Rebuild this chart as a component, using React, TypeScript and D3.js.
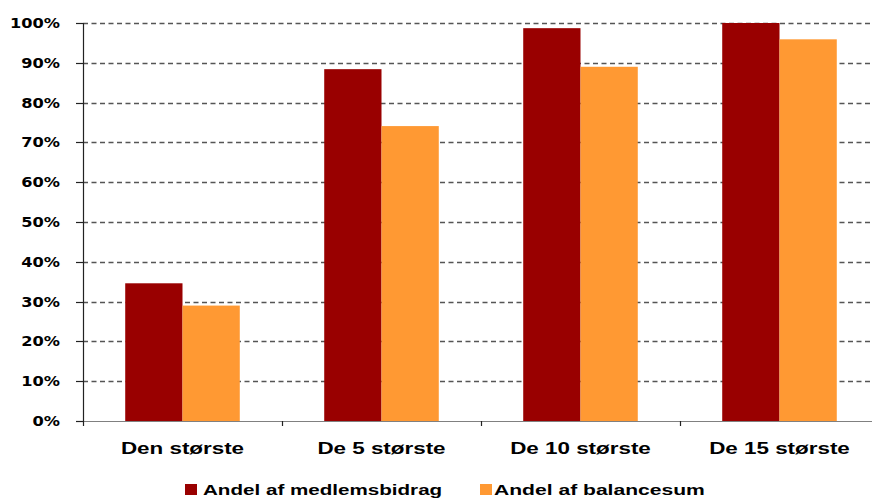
import React from "react";
import * as d3 from "d3";

const categories = ["Den største", "De 5 største", "De 10 største", "De 15 største"];
const seriesNames = ["Andel af medlemsbidrag", "Andel af balancesum"];
const medlemsbidrag = [0.346, 0.884, 0.987, 1.0];
const balancesum = [0.29, 0.741, 0.89, 0.959];
const yTicks = [0, 0.1, 0.2, 0.3, 0.4, 0.5, 0.6, 0.7, 0.8, 0.9, 1.0];
const colors = ["#990000", "#FF9933"];

const W = 872;
const H = 498;
const left = 83;
const right = 879;
const top = 23;
const bottom = 421;
const SX = 1.4;
const FONT = "'Liberation Sans', Arial, sans-serif";

export default function App() {
  const x = d3.scaleBand<string>().domain(categories).range([left, right]).paddingInner(0).paddingOuter(0);
  const inner = d3
    .scaleBand<string>()
    .domain(seriesNames)
    .range([0, x.bandwidth()])
    .paddingInner(0)
    .paddingOuter(0.737);
  const y = d3.scaleLinear().domain([0, 1]).range([bottom, top]);
  const fmt = d3.format(".0%");
  const series = [medlemsbidrag, balancesum];

  const stretched = (tx: number, ty: number, text: string, size: number, anchor: string, key?: any, family = FONT, sx = SX) => (
    <text
      key={key}
      transform={`translate(${tx},${ty}) scale(${sx},1)`}
      fontFamily={family}
      fontWeight="bold"
      fontSize={size}
      textAnchor={anchor}
      fill="#000"
    >
      {text}
    </text>
  );

  return (
    <svg width={W} height={H} style={{ position: "absolute", left: 0, top: 0, background: "#fff" }}>
      {/* gridlines */}
      {yTicks.map((t) => (
        <line
          key={"g" + t}
          x1={left}
          x2={right}
          y1={Math.round(y(t)) + 0.5}
          y2={Math.round(y(t)) + 0.5}
          stroke={t === 0 ? "#808080" : "#555"}
          strokeWidth={t === 0 ? 1.2 : 1.4}
          strokeDasharray={t === 0 ? undefined : "5,3.5"}
        />
      ))}
      {/* bars */}
      {categories.map((c, i) => (
        <g key={c}>
          {series.map((s, j) => (
            <rect
              key={j}
              x={(x(c) as number) + (inner(seriesNames[j]) as number)}
              y={y(s[i])}
              width={inner.bandwidth()}
              height={bottom - y(s[i])}
              fill={colors[j]}
            />
          ))}
        </g>
      ))}
      {/* y axis */}
      <line x1={left + 0.5} x2={left + 0.5} y1={top} y2={bottom} stroke="#222" strokeWidth={1.2} />
      {yTicks.map((t) => (
        <g key={"t" + t}>
          <line x1={left - 7} x2={left} y1={Math.round(y(t)) + 0.5} y2={Math.round(y(t)) + 0.5} stroke="#222" strokeWidth={1.2} />
          {stretched(60, y(t) + 5, fmt(t), 13.5, "end", null, "'DejaVu Sans', Verdana, sans-serif", 1.2)}
        </g>
      ))}
      {/* x axis ticks */}
      {[...categories.map((c) => x(c) as number), right].map((v, i) => (
        <line key={"xt" + i} x1={v + 0.5} x2={v + 0.5} y1={bottom} y2={bottom + 5} stroke="#222" strokeWidth={1.2} />
      ))}
      {categories.map((c, i) => stretched((x(c) as number) + x.bandwidth() / 2, 454, c, 16, "middle", "cl" + i))}
      {/* legend */}
      <rect x={185} y={484} width={12} height={11} fill={colors[0]} />
      {stretched(203, 495, seriesNames[0], 15.5, "start", "l0", FONT, 1.33)}
      <rect x={480} y={484} width={12} height={11} fill={colors[1]} />
      {stretched(494, 495, seriesNames[1], 15.5, "start", "l1", FONT, 1.36)}
    </svg>
  );
}
